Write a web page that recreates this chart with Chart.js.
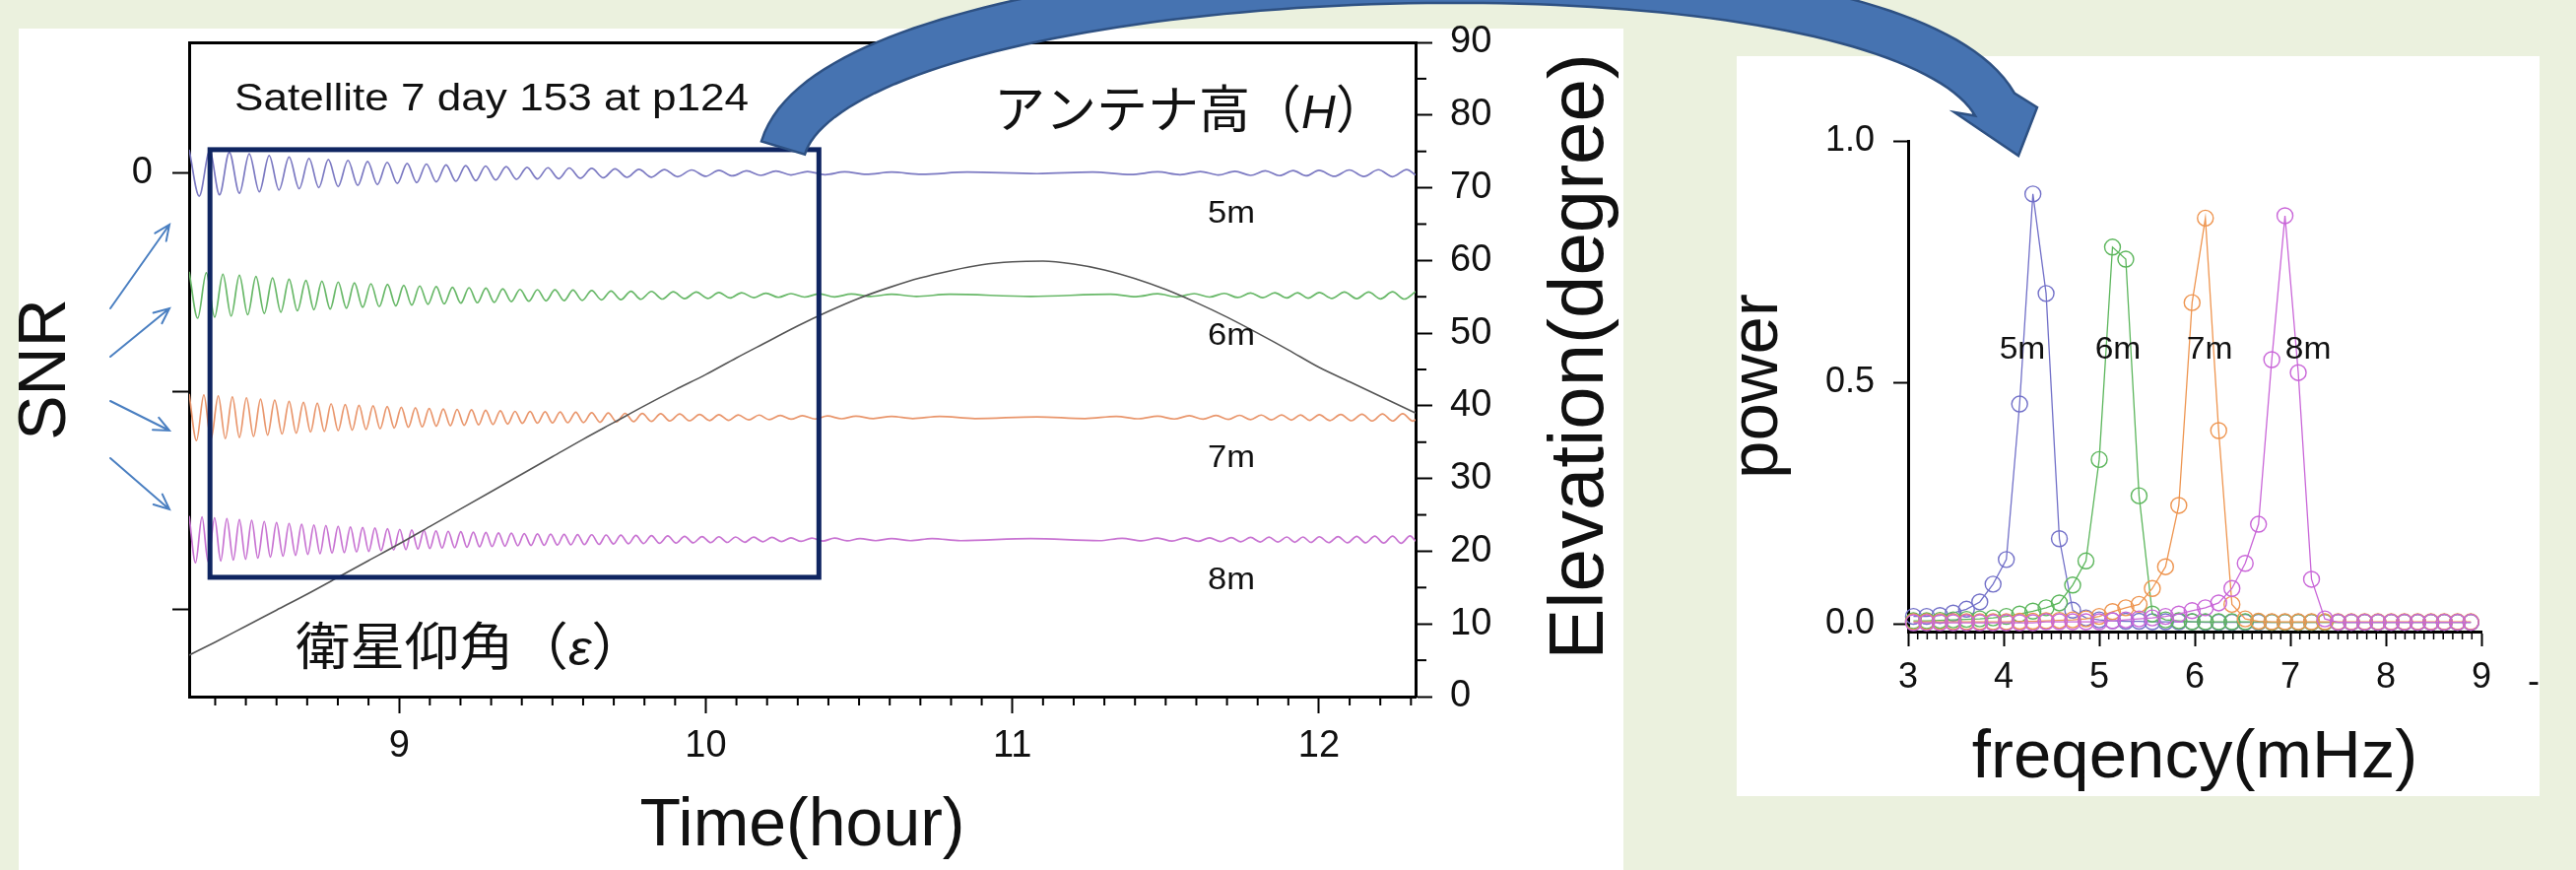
<!DOCTYPE html>
<html><head><meta charset="utf-8">
<script src="https://cdn.jsdelivr.net/npm/chart.js@4.4.1/dist/chart.umd.min.js"></script>
<style>
html,body{margin:0;padding:0;background:#ebf1de;width:2615px;height:883px;overflow:hidden;}
.panel{position:absolute;background:#fff;}
#leftPanel{left:19px;top:29px;width:1629px;height:854px;}
#rightPanel{left:1763px;top:57px;width:815px;height:751px;}
canvas{position:absolute;}
#snrChart{left:0;top:0;}
#specChart{left:1745px;top:57px;}
#overlay{left:0;top:0;pointer-events:none;}
</style></head><body>
<div class="panel" id="leftPanel"></div>
<div class="panel" id="rightPanel"></div>
<canvas id="snrChart" width="1660" height="883"></canvas>
<canvas id="specChart" width="833" height="751"></canvas>
<canvas id="overlay" width="2615" height="883"></canvas>
<script>
// ---------- SNR / elevation panel data ----------
const heightLabels = ['5m', '6m', '7m', '8m'];
const hourTicks = [9, 10, 11, 12];
const elevTicks = [0, 10, 20, 30, 40, 50, 60, 70, 80, 90];
const snrTicks = [0, -10, -20];
const snrOffsets = [0, -5.6, -11.2, -16.8];   // baseline of each antenna-height trace

const elevHour = [8.315,8.4,8.5,8.6,8.7,8.8,8.9,9.0,9.1,9.2,9.3,9.4,9.5,9.6,9.7,9.8,9.9,10.0,10.1,10.2,10.3,10.4,10.5,10.6,10.7,10.8,10.9,11.0,11.1,11.2,11.3,11.4,11.5,11.6,11.7,11.8,11.9,12.0,12.1,12.2,12.3,12.315];
const elevDeg  = [5.7,7.5,9.7,11.9,14.1,16.4,18.7,21.0,23.4,25.8,28.2,30.6,33.0,35.4,37.7,40.0,42.2,44.3,46.6,48.8,51.0,53.0,54.8,56.3,57.6,58.6,59.4,59.8,59.9,59.5,58.7,57.5,56.0,54.2,52.2,50.0,47.7,45.3,43.3,41.3,39.3,39.0];

// SNR traces: times of successive peaks/troughs and the deviation from the baseline there
const snr5mTime = [8.315,8.348,8.382,8.414,8.446,8.479,8.511,8.544,8.576,8.608,8.641,8.674,8.706,8.738,8.769,8.801,8.833,8.865,8.897,8.929,8.961,8.994,9.026,9.057,9.089,9.121,9.153,9.185,9.217,9.250,9.282,9.315,9.349,9.383,9.417,9.451,9.485,9.520,9.555,9.591,9.628,9.666,9.704,9.743,9.782,9.823,9.865,9.908,9.954,10.000,10.043,10.087,10.133,10.180,10.229,10.278,10.332,10.389,10.453,10.523,10.606,10.704,10.853,11.080,11.262,11.386,11.474,11.547,11.613,11.672,11.726,11.777,11.825,11.871,11.916,11.958,12.000,12.050,12.099,12.146,12.194,12.240,12.286,12.315];
const snr5mDev = [1.08,-1.05,1.02,-0.99,0.96,-0.92,0.89,-0.85,0.81,-0.77,0.74,-0.71,0.68,-0.66,0.63,-0.61,0.59,-0.56,0.54,-0.52,0.50,-0.47,0.45,-0.43,0.42,-0.40,0.38,-0.37,0.35,-0.34,0.33,-0.31,0.30,-0.28,0.27,-0.26,0.25,-0.25,0.24,-0.23,0.22,-0.21,0.20,-0.19,0.18,-0.18,0.17,-0.16,0.15,-0.14,0.13,-0.12,0.11,-0.10,0.10,-0.08,0.08,-0.07,0.06,-0.05,0.05,-0.05,0.05,-0.02,0.05,-0.06,0.06,-0.07,0.08,-0.08,0.09,-0.10,0.11,-0.11,0.12,-0.12,0.13,-0.14,0.15,-0.15,0.16,-0.16,0.17,-0.08];

const snr6mTime = [8.315,8.343,8.371,8.398,8.425,8.452,8.479,8.506,8.533,8.560,8.587,8.614,8.641,8.668,8.696,8.722,8.748,8.775,8.801,8.828,8.854,8.881,8.908,8.935,8.962,8.989,9.015,9.041,9.067,9.094,9.121,9.147,9.174,9.201,9.228,9.255,9.283,9.310,9.338,9.366,9.394,9.423,9.451,9.479,9.508,9.538,9.567,9.597,9.628,9.660,9.691,9.723,9.756,9.788,9.823,9.858,9.894,9.931,9.969,10.007,10.043,10.079,10.117,10.157,10.196,10.237,10.278,10.322,10.370,10.420,10.475,10.537,10.606,10.687,10.795,11.060,11.320,11.403,11.474,11.536,11.593,11.643,11.691,11.735,11.777,11.817,11.856,11.895,11.930,11.965,12.001,12.042,12.083,12.123,12.162,12.201,12.240,12.278,12.315];
const snr6mDev = [1.08,-1.05,1.03,-1.00,0.97,-0.95,0.92,-0.89,0.86,-0.83,0.80,-0.77,0.74,-0.71,0.68,-0.66,0.65,-0.63,0.61,-0.59,0.57,-0.55,0.53,-0.52,0.50,-0.48,0.46,-0.45,0.43,-0.41,0.40,-0.39,0.37,-0.36,0.35,-0.34,0.33,-0.32,0.30,-0.29,0.27,-0.27,0.26,-0.25,0.25,-0.24,0.24,-0.23,0.22,-0.21,0.20,-0.20,0.19,-0.18,0.18,-0.17,0.16,-0.15,0.15,-0.14,0.13,-0.12,0.12,-0.11,0.10,-0.09,0.08,-0.08,0.07,-0.07,0.06,-0.05,0.05,-0.05,0.05,-0.05,0.05,-0.06,0.07,-0.07,0.08,-0.08,0.09,-0.10,0.11,-0.11,0.12,-0.12,0.12,-0.13,0.13,-0.14,0.15,-0.15,0.15,-0.16,0.16,-0.17,0.17];

const snr7mTime = [8.315,8.339,8.363,8.386,8.410,8.433,8.456,8.479,8.502,8.525,8.548,8.571,8.594,8.618,8.641,8.664,8.688,8.711,8.733,8.756,8.778,8.801,8.824,8.847,8.869,8.892,8.915,8.938,8.961,8.984,9.007,9.030,9.053,9.075,9.098,9.121,9.144,9.167,9.189,9.212,9.236,9.259,9.282,9.306,9.330,9.354,9.378,9.402,9.427,9.451,9.476,9.500,9.525,9.550,9.576,9.601,9.628,9.655,9.682,9.709,9.737,9.765,9.793,9.823,9.853,9.883,9.915,9.947,9.980,10.012,10.043,10.074,10.106,10.140,10.174,10.207,10.243,10.278,10.315,10.356,10.397,10.443,10.490,10.546,10.606,10.675,10.763,10.878,11.080,11.237,11.339,11.413,11.474,11.528,11.577,11.622,11.664,11.705,11.741,11.777,11.812,11.845,11.878,11.910,11.940,11.970,12.001,12.036,12.071,12.106,12.140,12.174,12.207,12.240,12.273,12.306,12.315];
const snr7mDev = [1.08,-1.06,1.03,-1.01,0.99,-0.97,0.94,-0.92,0.90,-0.87,0.84,-0.81,0.79,-0.76,0.74,-0.72,0.69,-0.67,0.66,-0.64,0.63,-0.61,0.59,-0.58,0.56,-0.55,0.53,-0.52,0.50,-0.48,0.47,-0.45,0.44,-0.43,0.41,-0.40,0.39,-0.38,0.37,-0.36,0.35,-0.34,0.33,-0.32,0.31,-0.30,0.28,-0.27,0.27,-0.26,0.26,-0.25,0.25,-0.24,0.24,-0.23,0.22,-0.22,0.21,-0.20,0.19,-0.19,0.18,-0.18,0.17,-0.16,0.16,-0.15,0.14,-0.14,0.13,-0.13,0.12,-0.11,0.11,-0.10,0.09,-0.08,0.08,-0.07,0.07,-0.06,0.06,-0.05,0.05,-0.05,0.05,-0.05,0.03,-0.05,0.05,-0.06,0.06,-0.07,0.08,-0.08,0.09,-0.09,0.10,-0.10,0.11,-0.11,0.12,-0.12,0.12,-0.13,0.13,-0.14,0.14,-0.15,0.15,-0.16,0.16,-0.16,0.17,-0.17,-0.10];

const snr8mTime = [8.315,8.336,8.357,8.377,8.398,8.418,8.438,8.459,8.479,8.499,8.519,8.539,8.560,8.580,8.600,8.621,8.641,8.662,8.682,8.702,8.722,8.742,8.761,8.781,8.801,8.821,8.841,8.861,8.881,8.901,8.921,8.941,8.962,8.982,9.002,9.022,9.041,9.061,9.081,9.100,9.120,9.140,9.160,9.181,9.201,9.221,9.242,9.262,9.283,9.303,9.324,9.345,9.366,9.387,9.408,9.430,9.451,9.473,9.494,9.516,9.538,9.560,9.582,9.604,9.628,9.652,9.675,9.699,9.723,9.748,9.772,9.797,9.823,9.849,9.876,9.903,9.931,9.959,9.988,10.016,10.043,10.070,10.097,10.127,10.156,10.186,10.216,10.247,10.278,10.311,10.346,10.382,10.420,10.461,10.503,10.554,10.606,10.667,10.738,10.831,11.060,11.284,11.358,11.421,11.474,11.521,11.564,11.606,11.643,11.679,11.714,11.745,11.777,11.808,11.837,11.866,11.895,11.921,11.948,11.974,12.001,12.032,12.062,12.093,12.123,12.152,12.182,12.211,12.240,12.268,12.297,12.315];
const snr8mDev = [1.08,-1.06,1.04,-1.02,1.00,-0.98,0.96,-0.94,0.92,-0.90,0.88,-0.85,0.83,-0.80,0.78,-0.76,0.74,-0.72,0.70,-0.68,0.67,-0.65,0.64,-0.62,0.61,-0.60,0.58,-0.57,0.55,-0.54,0.53,-0.51,0.50,-0.48,0.47,-0.46,0.44,-0.43,0.42,-0.41,0.40,-0.39,0.38,-0.37,0.36,-0.35,0.34,-0.33,0.33,-0.32,0.31,-0.30,0.29,-0.28,0.27,-0.27,0.26,-0.26,0.25,-0.25,0.24,-0.24,0.23,-0.23,0.22,-0.22,0.21,-0.20,0.20,-0.19,0.19,-0.18,0.18,-0.17,0.17,-0.16,0.15,-0.15,0.14,-0.14,0.13,-0.13,0.12,-0.12,0.11,-0.10,0.10,-0.09,0.08,-0.08,0.07,-0.07,0.07,-0.06,0.05,-0.05,0.05,-0.05,0.05,-0.05,0.05,-0.05,0.06,-0.06,0.07,-0.07,0.08,-0.08,0.08,-0.09,0.09,-0.10,0.10,-0.11,0.11,-0.11,0.12,-0.12,0.12,-0.13,0.13,-0.14,0.14,-0.15,0.15,-0.15,0.16,-0.16,0.16,-0.17,0.17,-0.07];

// ---------- spectrum panel data ----------
const freqTicks = [3, 4, 5, 6, 7, 8, 9];
const powerTicks = [0, 0.5, 1.0];
const freqMHz = [3.056,3.194,3.333,3.472,3.611,3.750,3.889,4.028,4.167,4.306,4.444,4.583,4.722,4.861,5.000,5.139,5.278,5.417,5.556,5.694,5.833,5.972,6.111,6.250,6.389,6.528,6.667,6.806,6.944,7.083,7.222,7.361,7.500,7.639,7.778,7.917,8.056,8.194,8.333,8.472,8.611,8.750,8.889];
const power5m = [0.015,0.015,0.017,0.022,0.030,0.045,0.082,0.133,0.455,0.890,0.684,0.176,0.028,0.012,0.008,0.006,0.005,0.005,0.004,0.004,0.004,0.004,0.003,0.003,0.003,0.003,0.003,0.003,0.003,0.003,0.003,0.003,0.003,0.003,0.003,0.003,0.003,0.003,0.003,0.003,0.003,0.003,0.003];
const power6m = [0.006,0.006,0.007,0.008,0.009,0.010,0.012,0.015,0.020,0.026,0.033,0.043,0.080,0.130,0.340,0.780,0.755,0.265,0.020,0.008,0.006,0.004,0.004,0.004,0.004,0.004,0.004,0.003,0.003,0.003,0.003,0.003,0.003,0.003,0.003,0.003,0.003,0.003,0.003,0.003,0.003,0.003,0.003];
const power7m = [0.004,0.004,0.004,0.004,0.004,0.004,0.004,0.004,0.005,0.005,0.006,0.007,0.008,0.010,0.015,0.025,0.033,0.040,0.073,0.118,0.245,0.665,0.840,0.400,0.040,0.010,0.005,0.004,0.004,0.004,0.004,0.004,0.004,0.004,0.004,0.004,0.004,0.004,0.004,0.004,0.004,0.004,0.004];
const power8m = [0.002,0.002,0.002,0.002,0.002,0.002,0.002,0.002,0.002,0.002,0.004,0.004,0.004,0.004,0.004,0.006,0.008,0.010,0.012,0.015,0.020,0.027,0.033,0.043,0.073,0.125,0.206,0.547,0.845,0.520,0.092,0.010,0.003,0.003,0.003,0.003,0.003,0.003,0.003,0.003,0.003,0.003,0.003];

// ---------- styling ----------
const FONT = "'Liberation Sans', Arial, Helvetica, sans-serif";
const JP_FONT = "'Noto Sans CJK JP', 'Noto Sans CJK SC', sans-serif";
const INK = '#111';
const traceColors = ['#7b79c2', '#68b868', '#e9966c', '#c873d2'];
const specColors  = ['#7270c8', '#5cb65c', '#ee9550', '#c966d8'];

const snrSeries = [
  {time: snr5mTime, dev: snr5mDev},
  {time: snr6mTime, dev: snr6mDev},
  {time: snr7mTime, dev: snr7mDev},
  {time: snr8mTime, dev: snr8mDev}
];
const powerSeries = [power5m, power6m, power7m, power8m];

// highlighted time window (hours) and SNR extent of the boxed region
const focusWindow = {from: 8.383, to: 10.369, top: 1.08, bottom: -18.53};

function scaledText(ctx, text, x, y, font, sx, align) {
  ctx.save();
  ctx.font = font;
  ctx.translate(x, y);
  ctx.scale(sx, 1);
  ctx.textAlign = align || 'left';
  ctx.fillText(text, 0, 0);
  ctx.restore();
}
function mixedText(ctx, parts, x, y, sx) {
  // parts: [text, font] drawn one after another on the same baseline
  ctx.save();
  ctx.translate(x, y);
  ctx.scale(sx || 1, 1);
  let cx = 0;
  parts.forEach(([t, f]) => {
    ctx.font = f;
    ctx.fillText(t, cx, 0);
    cx += ctx.measureText(t).width;
  });
  ctx.restore();
}

const tickGrid = {display: true, drawOnChartArea: false, drawTicks: true, tickLength: 17, tickWidth: 2, tickColor: '#000'};
const axisBorder = {display: true, color: '#000', width: 3};

const snrDecor = {
  id: 'snrDecor',
  afterDraw(chart) {
    const {ctx, chartArea, scales} = chart;
    const x = scales.x, snr = scales.snr, elev = scales.elev;
    ctx.save();
    // minor ticks: every 0.1 h and every 5 degrees
    ctx.strokeStyle = '#000';
    ctx.lineWidth = 2;
    for (let k = 84; k <= 123; k++) {
      if (k % 10 === 0) continue;
      const px = x.getPixelForValue(k / 10);
      ctx.beginPath(); ctx.moveTo(px, chartArea.bottom + 1); ctx.lineTo(px, chartArea.bottom + 9); ctx.stroke();
    }
    for (let d = 5; d < 90; d += 10) {
      const py = elev.getPixelForValue(d);
      ctx.beginPath(); ctx.moveTo(chartArea.right + 1, py); ctx.lineTo(chartArea.right + 11, py); ctx.stroke();
    }
    // highlighted window
    const bx0 = x.getPixelForValue(focusWindow.from), bx1 = x.getPixelForValue(focusWindow.to);
    const by0 = snr.getPixelForValue(focusWindow.top), by1 = snr.getPixelForValue(focusWindow.bottom);
    ctx.strokeStyle = '#0f2561';
    ctx.lineWidth = 5;
    ctx.strokeRect(bx0, by0, bx1 - bx0, by1 - by0);
    // texts
    ctx.fillStyle = INK;
    ctx.textBaseline = 'alphabetic';
    scaledText(ctx, 'Satellite 7 day 153 at p124', 238, 112, `38px ${FONT}`, 1.16);
    mixedText(ctx, [['アンテナ高（', `52px ${JP_FONT}`], ['H', `italic 48px ${FONT}`], ['）', `52px ${JP_FONT}`]], 1009, 130, 1);
    mixedText(ctx, [['衛星仰角（', `52px ${JP_FONT}`], ['ε', `italic 50px ${FONT}`], ['）', `52px ${JP_FONT}`]], 300, 675, 1.065);
    heightLabels.forEach((lab, i) => {
      scaledText(ctx, lab, x.getPixelForValue(11.714), snr.getPixelForValue(snrOffsets[i]) + 50, `32px ${FONT}`, 1.08, 'center');
    });
    // right-hand axis title, reading upward
    ctx.save();
    ctx.translate(1627, 362);
    ctx.rotate(-Math.PI / 2);
    ctx.font = `78px ${FONT}`;
    ctx.textAlign = 'center';
    ctx.fillText('Elevation(degree)', 0, 0);
    ctx.restore();
    ctx.restore();
  }
};

const snrDatasets = [{
  label: 'elevation',
  data: elevHour.map((h, i) => ({x: h, y: elevDeg[i]})),
  yAxisID: 'elev',
  borderColor: '#555',
  borderWidth: 1.6,
  pointRadius: 0,
  cubicInterpolationMode: 'monotone',
  order: 0
}].concat(snrSeries.map((s, i) => ({
  label: heightLabels[i],
  data: s.time.map((t, j) => ({x: t, y: snrOffsets[i] + s.dev[j]})),
  yAxisID: 'snr',
  borderColor: traceColors[i],
  borderWidth: 1.7,
  pointRadius: 0,
  cubicInterpolationMode: 'monotone',
  order: 4 - i
})));

new Chart(document.getElementById('snrChart'), {
  type: 'line',
  data: {datasets: snrDatasets},
  options: {
    responsive: false, animation: false, devicePixelRatio: 1,
    layout: {padding: {top: 43, left: 0, right: 0, bottom: 0}},
    plugins: {legend: {display: false}, tooltip: {enabled: false}},
    scales: {
      x: {
        type: 'linear', position: 'bottom', min: 8.315, max: 12.315,
        afterBuildTicks: s => { s.ticks = hourTicks.map(v => ({value: v})); },
        afterFit: s => { s.height = 176; },
        grid: tickGrid, border: axisBorder,
        ticks: {font: {family: FONT, size: 38}, color: INK, padding: 11, maxRotation: 0, autoSkip: false, callback: v => String(v)},
        title: {display: true, text: 'Time(hour)', color: INK, font: {family: FONT, size: 68, lineHeight: 1}, padding: {top: 0, bottom: 10}}
      },
      xTop: {
        type: 'linear', position: 'top', min: 8.315, max: 12.315,
        afterFit: s => { s.height = 0; },
        grid: {display: false, drawTicks: false}, ticks: {display: false}, border: axisBorder
      },
      snr: {
        type: 'linear', position: 'left', min: -24, max: 6,
        afterBuildTicks: s => { s.ticks = snrTicks.map(v => ({value: v})); },
        afterFit: s => { s.width = 192; },
        grid: tickGrid, border: axisBorder,
        ticks: {font: {family: FONT, size: 38}, color: INK, padding: 20, callback: v => (v === 0 ? '0' : '')},
        title: {display: true, text: 'SNR', color: INK, font: {family: FONT, size: 68, lineHeight: 1}, padding: {top: 13, bottom: 0}}
      },
      elev: {
        type: 'linear', position: 'right', min: 0, max: 90,
        afterBuildTicks: s => { s.ticks = elevTicks.map(v => ({value: v})); },
        afterFit: s => { s.width = 223; },
        grid: tickGrid, border: axisBorder,
        ticks: {font: {family: FONT, size: 38}, color: INK, padding: 18, callback: v => String(v)}
      }
    }
  },
  plugins: [snrDecor]
});

// ---------- spectrum chart ----------
const specDecor = {
  id: 'specDecor',
  afterDraw(chart) {
    const {ctx, chartArea, scales} = chart;
    const x = scales.x, y = scales.y;
    ctx.save();
    ctx.strokeStyle = '#000';
    ctx.lineWidth = 1.5;
    for (let k = 31; k <= 89; k++) {
      if (k % 10 === 0) continue;
      const px = x.getPixelForValue(k / 10);
      ctx.beginPath(); ctx.moveTo(px, chartArea.bottom + 1); ctx.lineTo(px, chartArea.bottom + 8); ctx.stroke();
    }
    ctx.fillStyle = INK;
    ctx.textBaseline = 'alphabetic';
    const labelFreq = [4.196, 5.196, 6.155, 7.186];
    heightLabels.forEach((lab, i) => {
      scaledText(ctx, lab, x.getPixelForValue(labelFreq[i]), y.getPixelForValue(0.55), `32px ${FONT}`, 1.05, 'center');
    });
    ctx.font = `36px ${FONT}`;
    ctx.fillText('-', 821, 646);
    ctx.restore();
  }
};

new Chart(document.getElementById('specChart'), {
  type: 'line',
  data: {
    datasets: powerSeries.map((p, i) => ({
      label: heightLabels[i],
      data: freqMHz.map((f, j) => ({x: f, y: p[j]})),
      borderColor: specColors[i],
      borderWidth: 1.3,
      pointRadius: 8,
      pointBorderWidth: 1.4,
      pointBorderColor: specColors[i],
      pointBackgroundColor: 'rgba(0,0,0,0)',
      tension: 0,
      clip: false,
      order: 3 - i
    }))
  },
  options: {
    responsive: false, animation: false, devicePixelRatio: 1,
    layout: {padding: {top: 86, left: 0, right: 59, bottom: 0}},
    plugins: {legend: {display: false}, tooltip: {enabled: false}},
    scales: {
      x: {
        type: 'linear', min: 3, max: 9,
        afterBuildTicks: s => { s.ticks = freqTicks.map(v => ({value: v})); },
        afterFit: s => { s.height = 167; },
        grid: Object.assign({}, tickGrid, {tickLength: 15}), border: axisBorder,
        ticks: {font: {family: FONT, size: 36}, color: INK, padding: 10, maxRotation: 0, autoSkip: false, callback: v => String(v)},
        title: {display: true, text: 'freqency(mHz)', color: INK, font: {family: FONT, size: 69, lineHeight: 1}, padding: {top: 0, bottom: 4}}
      },
      y: {
        type: 'linear', min: -0.0163, max: 1.0,
        afterBuildTicks: s => { s.ticks = powerTicks.map(v => ({value: v})); },
        afterFit: s => { s.width = 192; },
        grid: Object.assign({}, tickGrid, {tickLength: 15}), border: axisBorder,
        ticks: {font: {family: FONT, size: 36}, color: INK, padding: 19, callback: v => v.toFixed(1)},
        title: {display: true, text: 'power', color: INK, font: {family: FONT, size: 69, lineHeight: 1}, padding: {top: 5, bottom: 0}}
      }
    }
  },
  plugins: [specDecor]
});

// ---------- arrows drawn over both panels ----------
const ov = document.getElementById('overlay').getContext('2d');

// thin pointers towards the SNR traces
const pointerArrows = [[112, 313, 172, 228], [112, 362, 172, 313], [112, 407, 172, 437], [112, 465, 172, 517]];
ov.strokeStyle = '#4a7fc1';
ov.lineWidth = 2;
ov.lineCap = 'round';
pointerArrows.forEach(([x0, y0, x1, y1]) => {
  const a = Math.atan2(y1 - y0, x1 - x0);
  ov.beginPath();
  ov.moveTo(x0, y0); ov.lineTo(x1, y1);
  ov.moveTo(x1 - 17 * Math.cos(a - 0.42), y1 - 17 * Math.sin(a - 0.42));
  ov.lineTo(x1, y1);
  ov.lineTo(x1 - 17 * Math.cos(a + 0.42), y1 - 17 * Math.sin(a + 0.42));
  ov.stroke();
});

// large curved arrow from the boxed window to the spectrum
function bezPoint(p, t) {
  const u = 1 - t;
  return [u*u*u*p[0][0] + 3*u*u*t*p[1][0] + 3*u*t*t*p[2][0] + t*t*t*p[3][0],
          u*u*u*p[0][1] + 3*u*u*t*p[1][1] + 3*u*t*t*p[2][1] + t*t*t*p[3][1]];
}
function bezTangent(p, t) {
  const u = 1 - t;
  const dx = 3*u*u*(p[1][0]-p[0][0]) + 6*u*t*(p[2][0]-p[1][0]) + 3*t*t*(p[3][0]-p[2][0]);
  const dy = 3*u*u*(p[1][1]-p[0][1]) + 6*u*t*(p[2][1]-p[1][1]) + 3*t*t*(p[3][1]-p[2][1]);
  const L = Math.hypot(dx, dy);
  return [dx / L, dy / L];
}
const arcPts = [[795, 150], [855, -50], [1915, -85], [2025, 106]];
const bandHalf = 23;
const outerEdge = [], innerEdge = [];
for (let i = 0; i <= 90; i++) {
  const t = i / 90;
  const [px, py] = bezPoint(arcPts, t);
  const [tx, ty] = bezTangent(arcPts, t);
  outerEdge.push([px + ty * bandHalf, py - tx * bandHalf]);
  innerEdge.push([px - ty * bandHalf, py + tx * bandHalf]);
}
// arrow head: right barb, tip, left barb
const headPts = [[2068, 109], [2049, 158], [1984, 114]];
ov.beginPath();
ov.moveTo(outerEdge[0][0], outerEdge[0][1]);
outerEdge.forEach(p => ov.lineTo(p[0], p[1]));
headPts.forEach(p => ov.lineTo(p[0], p[1]));
for (let i = innerEdge.length - 1; i >= 0; i--) ov.lineTo(innerEdge[i][0], innerEdge[i][1]);
ov.closePath();
ov.fillStyle = '#4673b1';
ov.fill();
ov.strokeStyle = '#2e5183';
ov.lineWidth = 2.5;
ov.lineJoin = 'miter';
ov.stroke();
</script></body></html>
